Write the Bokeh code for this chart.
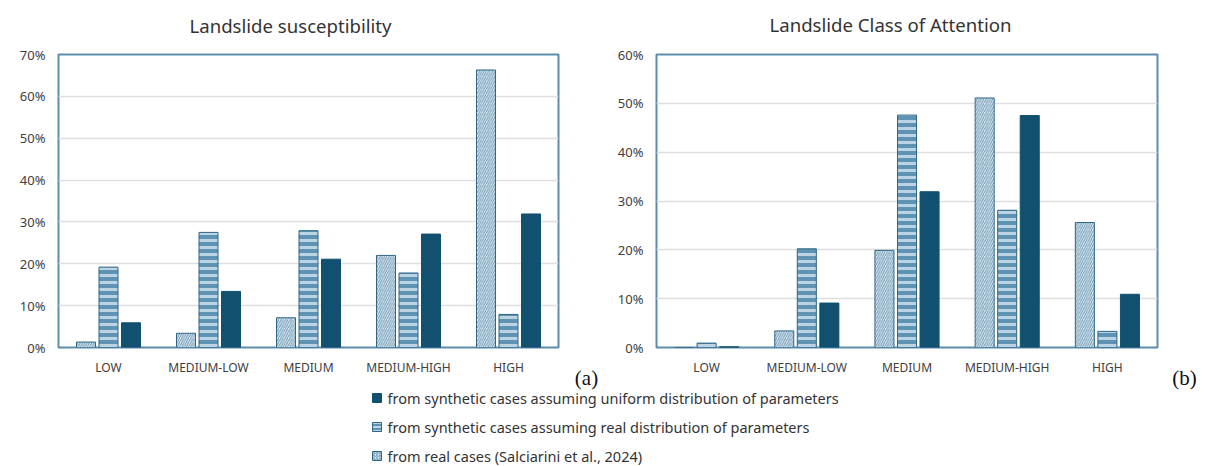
from bokeh.plotting import figure
from bokeh.models import ColumnDataSource, FactorRange, Range1d, FixedTicker, PrintfTickFormatter
from bokeh.transform import dodge
from bokeh.layouts import column, row
from bokeh.embed import file_html
from bokeh.resources import INLINE
from bokeh.core.properties import value

# ---------------- data ----------------
categories = ["LOW", "MEDIUM-LOW", "MEDIUM", "MEDIUM-HIGH", "HIGH"]

sus_real = [1.3, 3.4, 7.1, 22.0, 66.3]
sus_synth_real = [19.2, 27.5, 27.9, 17.8, 7.9]
sus_uniform = [5.9, 13.4, 21.1, 27.1, 31.9]

att_real = [0.0, 3.4, 19.9, 51.1, 25.6]
att_synth_real = [0.9, 20.2, 47.6, 28.1, 3.3]
att_uniform = [0.15, 9.1, 31.9, 47.5, 10.9]

titles = ["Landslide susceptibility", "Landslide Class of Attention"]
tags = ["(a)", "(b)"]
y_max = [70, 60]

legend_labels = [
    "from synthetic cases assuming uniform distribution of parameters",
    "from synthetic cases assuming real distribution of parameters",
    "from real cases (Salciarini et al., 2024)",
]

# ---------------- styles ----------------
FONT = "Noto Sans"
C_UNI = "#11506e"
C_SYN = "#5f93b4"
C_SYN_STRIPE = "#bcd3e4"
C_REAL = "#e2ecf3"
C_REAL_HATCH = "#6a97b4"
C_EDGE = "#2f6685"
C_FRAME = "#5b8ead"
C_GRID = "#dedede"
C_TEXT = "#404040"

BAR_W = 0.19
OFF = 0.225
W = 1206
H = 466
HEAD_H = 40            # title strip
CHART_H = 338          # charts: frame from y=54 to y=347 on the page
OVERLAP = 14           # legend strip overlaps the charts' bottom border (transparent)


def make_chart(real, synth, uniform, ymax, width, left_border, right_border):
    src = ColumnDataSource(dict(cat=categories, real=real, synth=synth, uni=uniform))
    p = figure(width=width, height=CHART_H, x_range=FactorRange(factors=categories, range_padding=0),
               y_range=Range1d(0, ymax), output_backend="svg", toolbar_location=None,
               min_border_left=left_border, min_border_right=right_border,
               min_border_top=14, min_border_bottom=31)
    p.background_fill_color = "white"
    p.border_fill_color = "white"
    p.outline_line_color = C_FRAME
    p.outline_line_width = 2

    p.xgrid.visible = False
    p.ygrid.ticker = FixedTicker(ticks=list(range(0, ymax + 1, 10)))
    p.ygrid.grid_line_color = C_GRID
    p.ygrid.grid_line_width = 1.5

    p.yaxis.ticker = FixedTicker(ticks=list(range(0, ymax + 1, 10)))
    p.yaxis.formatter = PrintfTickFormatter(format="%d%%")
    for ax in (p.xaxis[0], p.yaxis[0]):
        ax.axis_line_color = None
        ax.major_tick_line_color = None
        ax.minor_tick_line_color = None
        ax.major_tick_out = 0
        ax.minor_tick_out = 0
        ax.major_label_text_font = FONT
        ax.major_label_text_color = C_TEXT
    p.yaxis.major_label_text_font_size = "13px"
    p.yaxis.major_label_standoff = 13
    p.xaxis.major_label_text_font_size = "12px"
    p.xaxis.major_label_standoff = 11

    p.vbar(x=dodge("cat", -OFF, range=p.x_range), top="real", width=BAR_W, source=src,
           fill_color=C_REAL, line_color=C_EDGE, line_width=1,
           hatch_pattern="/", hatch_color=C_REAL_HATCH, hatch_scale=4.5, hatch_weight=1)
    p.vbar(x=dodge("cat", 0.0, range=p.x_range), top="synth", width=BAR_W, source=src,
           fill_color=C_SYN, line_color=C_EDGE, line_width=1,
           hatch_pattern="-", hatch_color=C_SYN_STRIPE, hatch_scale=7, hatch_weight=3)
    p.vbar(x=dodge("cat", OFF, range=p.x_range), top="uni", width=BAR_W, source=src,
           fill_color=C_UNI, line_color=C_UNI, line_width=1)
    return p


def strip(height, margin=None):
    kw = dict(margin=margin) if margin is not None else {}
    s = figure(width=W, height=height, x_range=Range1d(0, W), y_range=Range1d(height, 0),
               output_backend="svg", toolbar_location=None, min_border=0, **kw)
    s.axis.visible = False
    s.grid.visible = False
    s.outline_line_color = None
    s.background_fill_color = None
    s.border_fill_color = None
    return s


# ---------------- title strip ----------------
p0 = strip(HEAD_H)
p0.text(x=[290, 890], y=[25, 24], text=titles, text_font=value(FONT), text_font_size="18.6px",
        text_color="#333333", text_align="center", text_baseline="middle")

# ---------------- charts ----------------
p1 = make_chart(sus_real, sus_synth_real, sus_uniform, y_max[0], 606, 58, 48)
p2 = make_chart(att_real, att_synth_real, att_uniform, y_max[1], 600, 50, 49)

# ---------------- legend strip ----------------
LEG_H = H - HEAD_H - CHART_H + OVERLAP
p3 = strip(LEG_H, margin=(-OVERLAP, 0, 0, 0))
top3 = HEAD_H + CHART_H - OVERLAP   # page y of the strip's top edge

p3.text(x=[586, 1184], y=[377.5 - top3, 377.5 - top3], text=tags,
        text_font=value("Liberation Serif"), text_font_size="21px", text_color="#111111",
        text_align="center", text_baseline="middle")

ly = [397.5 - top3, 426.5 - top3, 455.5 - top3]
p3.rect(x=[376.5], y=[ly[0]], width=9, height=9, fill_color=C_UNI, line_color=C_UNI)
p3.rect(x=[376.5], y=[ly[1]], width=9, height=9, fill_color=C_SYN, line_color=C_EDGE,
        hatch_pattern="-", hatch_color=C_SYN_STRIPE, hatch_scale=4, hatch_weight=2)
p3.rect(x=[376.5], y=[ly[2]], width=9, height=9, fill_color=C_REAL, line_color=C_EDGE,
        hatch_pattern="/", hatch_color=C_REAL_HATCH, hatch_scale=3, hatch_weight=1)
p3.text(x=[387, 387, 387], y=ly, text=legend_labels, text_font=value(FONT),
        text_font_size="14.5px", text_color="#333333", text_align="left", text_baseline="middle")

layout = column(p0, row(p1, p2), p3)
open("out.html", "w").write(file_html(layout, INLINE))
